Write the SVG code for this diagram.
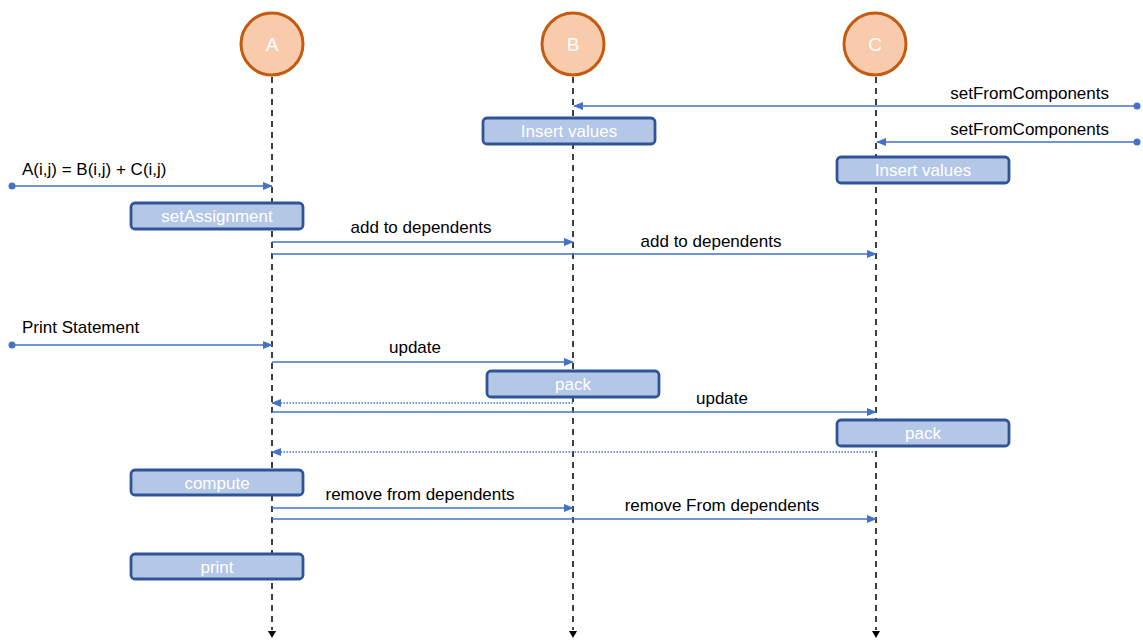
<svg xmlns="http://www.w3.org/2000/svg" width="1143" height="642" viewBox="0 0 1143 642">
  <style>
    .actor { fill: #F8CBAD; stroke: #C55A11; stroke-width: 3; }
    .actor-label { font-family: "Liberation Sans", Arial, sans-serif; font-size: 19px; fill: #ffffff; text-anchor: middle; }
    .lifeline { stroke: #000000; stroke-width: 1.5; stroke-dasharray: 6 5; fill: none; }
    .box { fill: #B4C7E7; stroke: #2F5597; stroke-width: 2.8; }
    .box-label { font-family: "Liberation Sans", Arial, sans-serif; font-size: 17px; fill: #ffffff; text-anchor: middle; }
    .msg { stroke: #4472C4; stroke-width: 1.3; fill: none; }
    .ret { stroke: #4472C4; stroke-width: 1.3; stroke-dasharray: 1.5 1.5; fill: none; }
    .msg-label { font-family: "Liberation Sans", Arial, sans-serif; font-size: 17px; fill: #000000; }
    .mid { text-anchor: middle; }
    .end { text-anchor: end; }
  </style>
  <defs>
    <marker id="arrow" markerWidth="10" markerHeight="8" refX="9" refY="4" orient="auto" markerUnits="userSpaceOnUse">
      <path d="M0,0 L10,4 L0,8 Z" fill="#4472C4"/>
    </marker>
    <marker id="dot" markerWidth="10" markerHeight="10" refX="5" refY="5" markerUnits="userSpaceOnUse">
      <circle cx="5" cy="5" r="3.5" fill="#4472C4"/>
    </marker>
  </defs>

  <!-- lifelines -->
  <g id="lifelines">
    <line class="lifeline" x1="272" y1="77" x2="272" y2="630"/>
    <line class="lifeline" x1="573" y1="77" x2="573" y2="630"/>
    <line class="lifeline" x1="876" y1="77" x2="876" y2="630"/>
    <path d="M268,631 L276,631 L272,638 Z" fill="#000"/>
    <path d="M569,631 L577,631 L573,638 Z" fill="#000"/>
    <path d="M872,631 L880,631 L876,638 Z" fill="#000"/>
  </g>

  <!-- participants -->
  <g id="participant-A">
    <circle class="actor" cx="272" cy="44" r="31"/>
    <text class="actor-label" x="272" y="51">A</text>
  </g>
  <g id="participant-B">
    <circle class="actor" cx="573" cy="44" r="31"/>
    <text class="actor-label" x="573" y="51">B</text>
  </g>
  <g id="participant-C">
    <circle class="actor" cx="875" cy="44" r="31"/>
    <text class="actor-label" x="875" y="51">C</text>
  </g>

  <!-- activity boxes -->
  <g id="insert-values-B">
    <rect class="box" x="483" y="118" width="172" height="26" rx="4"/>
    <text class="box-label" x="569" y="137">Insert values</text>
  </g>
  <g id="insert-values-C">
    <rect class="box" x="837" y="157" width="172" height="26" rx="4"/>
    <text class="box-label" x="923" y="176">Insert values</text>
  </g>
  <g id="set-assignment">
    <rect class="box" x="131" y="203" width="172" height="26" rx="4"/>
    <text class="box-label" x="217" y="222">setAssignment</text>
  </g>
  <g id="pack-B">
    <rect class="box" x="487" y="371" width="172" height="26" rx="4"/>
    <text class="box-label" x="573" y="390">pack</text>
  </g>
  <g id="pack-C">
    <rect class="box" x="837" y="420" width="172" height="26" rx="4"/>
    <text class="box-label" x="923" y="439">pack</text>
  </g>
  <g id="compute">
    <rect class="box" x="131" y="470" width="172" height="25" rx="4"/>
    <text class="box-label" x="217" y="489">compute</text>
  </g>
  <g id="print">
    <rect class="box" x="131" y="554" width="172" height="25" rx="4"/>
    <text class="box-label" x="217" y="573">print</text>
  </g>

  <!-- messages -->
  <g id="connectors">
    <line class="msg" x1="1137" y1="106" x2="574" y2="106" marker-start="url(#dot)" marker-end="url(#arrow)"/>
    <text class="msg-label end" x="1109" y="99">setFromComponents</text>

    <line class="msg" x1="1137" y1="142" x2="877" y2="142" marker-start="url(#dot)" marker-end="url(#arrow)"/>
    <text class="msg-label end" x="1109" y="135">setFromComponents</text>

    <line class="msg" x1="12" y1="186" x2="272" y2="186" marker-start="url(#dot)" marker-end="url(#arrow)"/>
    <text class="msg-label" x="22" y="175">A(i,j) = B(i,j) + C(i,j)</text>

    <line class="msg" x1="272" y1="242" x2="573" y2="242" marker-end="url(#arrow)"/>
    <text class="msg-label mid" x="421" y="233">add to dependents</text>

    <line class="msg" x1="272" y1="254" x2="876" y2="254" marker-end="url(#arrow)"/>
    <text class="msg-label mid" x="711" y="247">add to dependents</text>

    <line class="msg" x1="12" y1="345" x2="272" y2="345" marker-start="url(#dot)" marker-end="url(#arrow)"/>
    <text class="msg-label" x="22" y="333">Print Statement</text>

    <line class="msg" x1="272" y1="362" x2="573" y2="362" marker-end="url(#arrow)"/>
    <text class="msg-label mid" x="415" y="353">update</text>

    <line class="ret" x1="573" y1="403" x2="272" y2="403" marker-end="url(#arrow)"/>

    <line class="msg" x1="272" y1="412" x2="876" y2="412" marker-end="url(#arrow)"/>
    <text class="msg-label mid" x="722" y="404">update</text>

    <line class="ret" x1="876" y1="452" x2="272" y2="452" marker-end="url(#arrow)"/>

    <line class="msg" x1="272" y1="508" x2="573" y2="508" marker-end="url(#arrow)"/>
    <text class="msg-label mid" x="420" y="500">remove from dependents</text>

    <line class="msg" x1="272" y1="519" x2="876" y2="519" marker-end="url(#arrow)"/>
    <text class="msg-label mid" x="722" y="511">remove From dependents</text>
  </g>
</svg>
